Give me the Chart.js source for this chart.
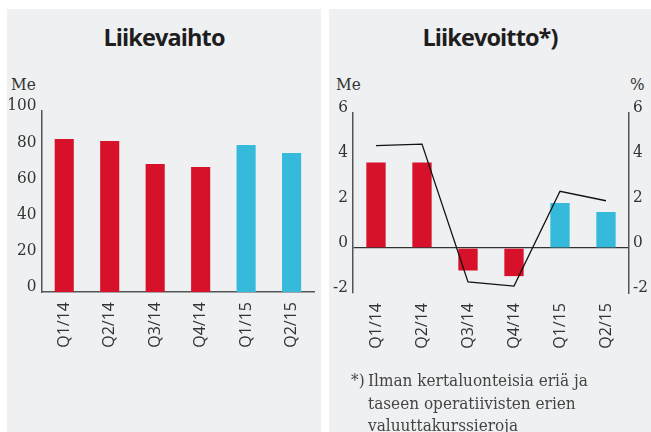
<!DOCTYPE html>
<html lang="fi">
<head>
<meta charset="utf-8">
<script src="https://cdn.jsdelivr.net/npm/chart.js@4.4.1/dist/chart.umd.min.js"></script>
<style>
  html, body { margin: 0; padding: 0; background: #fff; }
  body { width: 651px; height: 432px; position: relative; overflow: hidden; }
  .panel { position: absolute; top: 9px; height: 423px; background: #eff0f2; }
  #p1 { left: 7px; width: 314px; }
  #p2 { left: 329px; width: 322px; }
  .title { position: absolute; top: 15px; left: 0; width: 100%; text-align: center;
           font: 700 23.5px/26px 'Open Sans', sans-serif; color: #1e1e1e; letter-spacing: -0.9px; }
  .unit { position: absolute; top: 65px; font: 17px/20px 'DejaVu Serif Condensed', 'DejaVu Serif', serif; color: #333; }
  canvas { position: absolute; top: 90px; }
  #c1 { left: 7px; }
  #c2 { left: 329px; }
  .note { position: absolute; left: 351px; top: 369px; font: 17px/22.5px 'DejaVu Serif Condensed', 'DejaVu Serif', serif; color: #444; }
  .note .star { position: absolute; left: 0; top: 0; }
  .note .txt { position: absolute; left: 17px; top: 0; white-space: nowrap; }
</style>
</head>
<body>
<div class="panel" id="p1">
  <div class="title">Liikevaihto</div>
  <div class="unit" style="left:4px">Me</div>
</div>
<div class="panel" id="p2">
  <div class="title">Liikevoitto*)</div>
  <div class="unit" style="left:7px">Me</div>
  <div class="unit" style="left:301px">%</div>
</div>
<canvas id="c1" width="314" height="280"></canvas>
<canvas id="c2" width="322" height="280"></canvas>
<div class="note">
  <span class="star">*)</span>
  <span class="txt">Ilman kertaluonteisia eriä ja<br>taseen operatiivisten erien<br>valuuttakurssieroja</span>
</div>
<script>
// Neljännekset
const quarters = ['Q1/14', 'Q2/14', 'Q3/14', 'Q4/14', 'Q1/15', 'Q2/15'];
// Liikevaihto, Me
const liikevaihto = [84.5, 83.4, 70.7, 69, 81.2, 76.8];
// Liikevoitto, Me
const liikevoitto = [3.8, 3.8, -1.0, -1.25, 2.0, 1.6];
// Liikevoitto, % liikevaihdosta
const liikevoittoPct = [4.55, 4.62, -1.51, -1.69, 2.52, 2.1];
const leftTicks = [0, 20, 40, 60, 80, 100];
const rightTicks = [-2, 0, 2, 4, 6];

const RED = '#d8112a';
const BLUE = '#35badb';
const barColors = quarters.map(q => q.endsWith('/15') ? BLUE : RED);

const serif = "'DejaVu Serif Condensed', 'DejaVu Serif', serif";
const tickFont = { family: serif, size: 17 };
const qFont = { family: "'Open Sans', sans-serif", size: 16 };
const axisBorder = { display: true, color: '#555', width: 1.5 };

const xScale = (h, showBorder) => ({
  grid: { display: false, drawTicks: false },
  border: showBorder ? axisBorder : { display: false },
  ticks: { autoSkip: false, minRotation: 90, maxRotation: 90, padding: 10, color: '#333', font: qFont },
  afterFit: s => { s.height = h; }
});

// Liikevaihto
new Chart(document.getElementById('c1'), {
  type: 'bar',
  data: {
    labels: quarters,
    datasets: [{
      data: liikevaihto,
      backgroundColor: barColors,
      categoryPercentage: 1,
      barPercentage: 0.42
    }]
  },
  options: {
    responsive: false,
    animation: false,
    layout: { padding: { top: 21, right: 2.5, left: 0, bottom: 0 } },
    plugins: { legend: { display: false }, tooltip: { enabled: false } },
    scales: {
      x: xScale(78, true),
      y: {
        min: 0, max: 100,
        afterBuildTicks: s => { s.ticks = leftTicks.map(v => ({ value: v })); },
        grid: { display: false, drawTicks: false },
        border: axisBorder,
        ticks: { padding: 5, labelOffset: -5, color: '#333', font: tickFont },
        afterFit: s => { s.width = 34.5; }
      }
    }
  }
});

// Liikevoitto
new Chart(document.getElementById('c2'), {
  type: 'bar',
  data: {
    labels: quarters,
    datasets: [
      {
        type: 'line',
        data: liikevoittoPct,
        yAxisID: 'y1',
        borderColor: '#111',
        borderWidth: 1.3,
        pointRadius: 0,
        tension: 0,
        fill: false,
        order: 0
      },
      {
        data: liikevoitto,
        yAxisID: 'y',
        backgroundColor: barColors,
        categoryPercentage: 1,
        barPercentage: 0.42,
        order: 1
      }
    ]
  },
  options: {
    responsive: false,
    animation: false,
    layout: { padding: { top: 23, right: 0, left: 0, bottom: 0 } },
    plugins: { legend: { display: false }, tooltip: { enabled: false } },
    scales: {
      x: xScale(77, false),
      y: {
        position: 'left',
        min: -2, max: 6,
        afterBuildTicks: s => { s.ticks = rightTicks.map(v => ({ value: v })); },
        grid: {
          drawTicks: false,
          color: c => c.tick && c.tick.value === 0 ? '#333' : 'rgba(0,0,0,0)',
          lineWidth: 1.3
        },
        border: axisBorder,
        ticks: { padding: 5, labelOffset: -5, color: '#333', font: tickFont },
        afterFit: s => { s.width = 24; }
      },
      y1: {
        position: 'right',
        min: -2, max: 6,
        afterBuildTicks: s => { s.ticks = rightTicks.map(v => ({ value: v })); },
        grid: { display: false, drawTicks: false },
        border: axisBorder,
        ticks: { padding: 4, labelOffset: -5, color: '#333', font: tickFont },
        afterFit: s => { s.width = 22; }
      }
    }
  }
});
</script>
</body>
</html>
